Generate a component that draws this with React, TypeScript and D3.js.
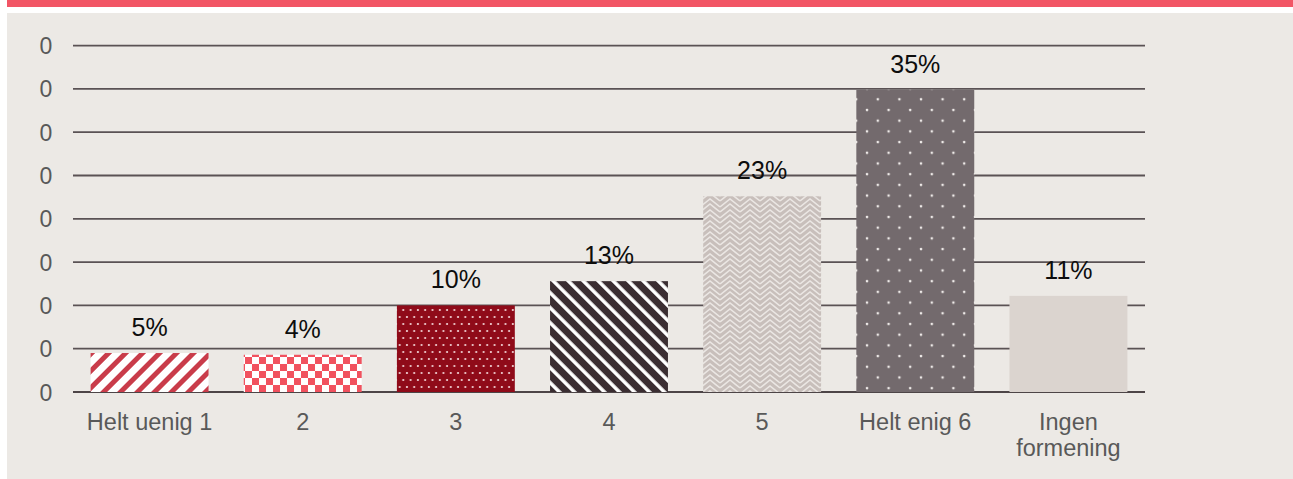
import React from "react";
import * as d3 from "d3";

const categories: string[][] = [
  ["Helt uenig 1"],
  ["2"],
  ["3"],
  ["4"],
  ["5"],
  ["Helt enig 6"],
  ["Ingen", "formening"],
];
const values: number[] = [0.045, 0.043, 0.1, 0.128, 0.226, 0.349, 0.111];
const valueLabels: string[] = ["5%", "4%", "10%", "13%", "23%", "35%", "11%"];
const tickValues: number[] = [0, 0.05, 0.1, 0.15, 0.2, 0.25, 0.3, 0.35, 0.4];
const tickLabels: string[] = ["0", "0", "0", "0", "0", "0", "0", "0", "0"];
const fills: string[] = [
  "url(#p-stripe-red)",
  "url(#p-check)",
  "url(#p-dots-red)",
  "url(#p-stripe-dark)",
  "url(#p-fret)",
  "url(#p-dots-gray)",
  "#dbd4cf",
];

const W = 1293;
const H = 479;
const left = 73;
const right = 1145;
const baseY = 392;
const topY = 45.6;

export default function App() {
  const x = d3
    .scaleBand<number>()
    .domain(d3.range(categories.length))
    .range([left, right])
    .paddingInner(0.23)
    .paddingOuter(0.115);
  const y = d3.scaleLinear().domain([0, 0.4]).range([baseY, topY]);
  const font = "'Liberation Sans', Arial, Helvetica, sans-serif";

  return (
    <svg
      width={W}
      height={H}
      style={{ position: "fixed", left: 0, top: 0, display: "block" }}
    >
      <defs>
        <pattern id="p-stripe-red" patternUnits="userSpaceOnUse" width={12} height={12} patternTransform="rotate(45)">
          <rect width={12} height={12} fill="#ffffff" />
          <rect width={5} height={12} fill="#c93c4a" />
        </pattern>
        <pattern id="p-check" patternUnits="userSpaceOnUse" width={14} height={14}>
          <rect width={14} height={14} fill="#ffffff" />
          <rect width={7} height={7} fill="#f1525f" />
          <rect x={7} y={7} width={7} height={7} fill="#f1525f" />
        </pattern>
        <pattern id="p-dots-red" patternUnits="userSpaceOnUse" width={7.3} height={14}>
          <rect width={7.3} height={14} fill="#8f0b19" />
          <circle cx={1.8} cy={2} r={1.1} fill="#f3d6d8" />
          <circle cx={5.45} cy={9} r={1.1} fill="#f3d6d8" />
        </pattern>
        <pattern id="p-stripe-dark" patternUnits="userSpaceOnUse" width={10.6} height={10.6} patternTransform="rotate(-45)">
          <rect width={10.6} height={10.6} fill="#3b2e32" />
          <rect width={3.6} height={10.6} fill="#ffffff" />
        </pattern>
        <pattern id="p-fret" patternUnits="userSpaceOnUse" width={20} height={11}>
          <rect width={20} height={11} fill="#c8bfbb" />
          <path
            d="M0,9 L10,1 L20,9 M0,14 L10,6 L20,14 M0,3 L10,-5 L20,3 M0,-2 L10,-10 L20,-2"
            fill="none"
            stroke="#ebe7e4"
            strokeWidth={1.6}
          />
        </pattern>
        <pattern id="p-dots-gray" patternUnits="userSpaceOnUse" width={21.6} height={21.4}>
          <rect width={21.6} height={21.4} fill="#736a6d" />
          <circle cx={3} cy={3} r={1.3} fill="#f0ecea" />
          <circle cx={13.8} cy={13.7} r={1.3} fill="#f0ecea" />
        </pattern>
      </defs>

      <rect x={0} y={0} width={W} height={H} fill="#ffffff" />
      <rect x={7} y={0} width={W - 7} height={7} fill="#f25565" />
      <rect x={7} y={13} width={W - 7} height={H - 13} fill="#ece9e5" />

      {tickValues.map((t, i) => (
        <g key={"t" + i}>
          <line
            x1={left}
            x2={right}
            y1={y(t)}
            y2={y(t)}
            stroke={i === 0 ? "#4d4547" : "#5a5254"}
            strokeWidth={i === 0 ? 2.2 : 1.8}
          />
          <text
            x={46}
            y={y(t) + 8.5}
            textAnchor="middle"
            fontFamily={font}
            fontSize={23}
            fill="#595959"
          >
            {tickLabels[i]}
          </text>
        </g>
      ))}

      {values.map((v, i) => (
        <g key={"b" + i}>
          <rect
            x={x(i)!}
            y={y(v)}
            width={x.bandwidth()}
            height={baseY - y(v)}
            fill={fills[i]}
          />
          <text
            x={x(i)! + x.bandwidth() / 2}
            y={y(v) - 17}
            textAnchor="middle"
            fontFamily={font}
            fontSize={25}
            fill="#0d0d0d"
          >
            {valueLabels[i]}
          </text>
        </g>
      ))}

      {categories.map((lines, i) => (
        <text
          key={"c" + i}
          x={x(i)! + x.bandwidth() / 2}
          y={429.5}
          textAnchor="middle"
          fontFamily={font}
          fontSize={23.5}
          fill="#595959"
        >
          {lines.map((l, j) => (
            <tspan key={j} x={x(i)! + x.bandwidth() / 2} dy={j === 0 ? 0 : 26}>
              {l}
            </tspan>
          ))}
        </text>
      ))}
    </svg>
  );
}
